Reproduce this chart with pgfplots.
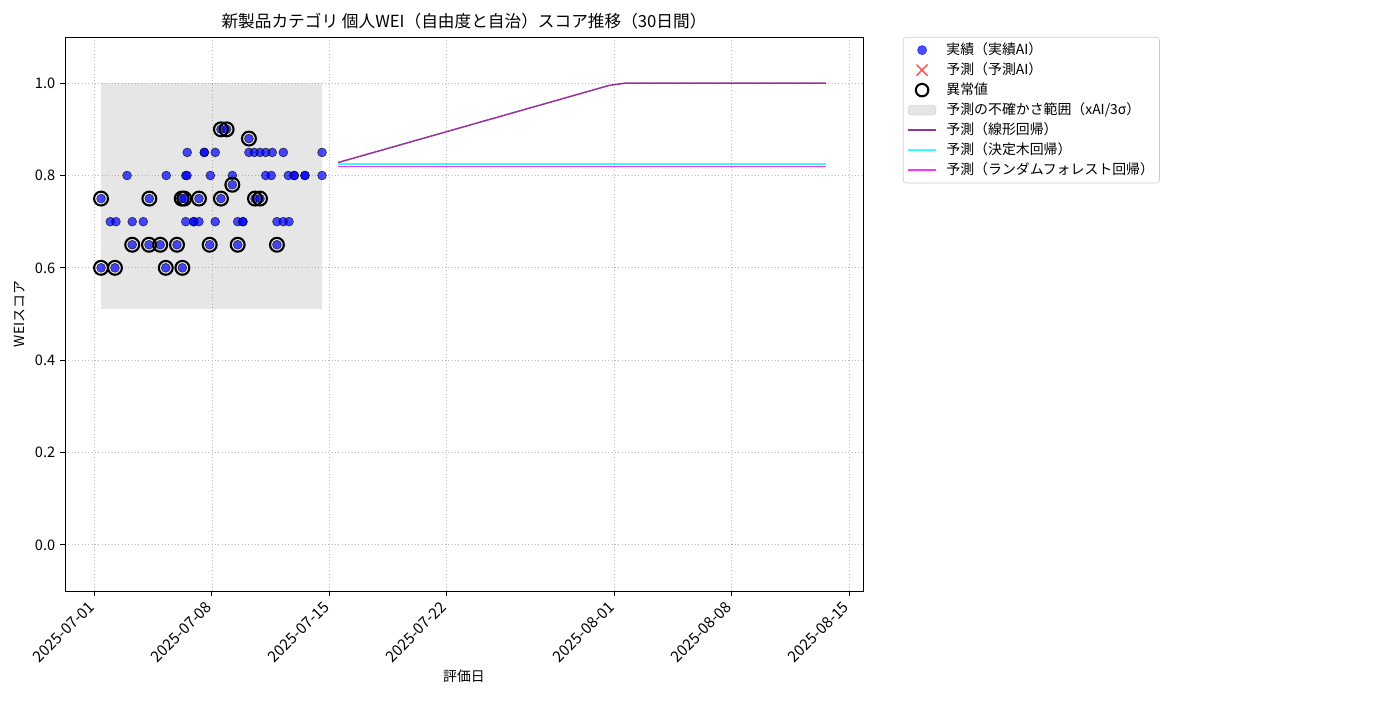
\documentclass[border=0pt]{standalone}
\usepackage{fontspec}
\setmainfont{Noto Sans CJK JP}
\usepackage{pgfplots}
\pgfplotsset{compat=1.18}

\definecolor{linpurple}{RGB}{128,0,128}
\definecolor{treecyan}{RGB}{0,255,255}
\definecolor{forestmag}{RGB}{255,0,255}
\definecolor{actblue}{RGB}{0,0,255}

\begin{document}
\begin{tikzpicture}
\path[use as bounding box] (0,0) rectangle (1008pt,504pt);
\begin{axis}[
    at={(46.8pt,78.48pt)}, anchor=south west,
    scale only axis,
    width=574.56pt, height=398.88pt,
    xmin=-1.759, xmax=45.83,
    ymin=-0.1, ymax=1.1,
    xtick={0,7,14,21,31,38,45},
    xticklabels={2025-07-01,2025-07-08,2025-07-15,2025-07-22,2025-08-01,2025-08-08,2025-08-15},
    xticklabel style={xshift=-5pt, yshift=-1.5pt, rotate=45, anchor=north east, inner sep=1pt, font=\fontsize{11}{13}\selectfont},
    ytick={0,0.2,0.4,0.6,0.8,1.0},
    yticklabel style={/pgf/number format/fixed, /pgf/number format/fixed zerofill, /pgf/number format/precision=1, font=\fontsize{10.5}{12}\selectfont},
    /pgf/number format/assume math mode=true,
    tick align=outside, tick pos=left,
    major tick length=3.5pt,
    every tick/.style={black, line width=0.6pt},
    axis line style={line width=0.6pt},
    grid=major,
    major grid style={dotted, color=gray!55, line width=0.5pt},
    title={新製品カテゴリ 個人WEI（自由度と自治）スコア推移（30日間）},
    title style={font=\fontsize{12}{14}\selectfont, at={(axis description cs:0.5,1)}, anchor=south, yshift=-3.5pt},
    xlabel={評価日},
    xlabel style={font=\fontsize{10}{12}\selectfont, at={(axis description cs:0.5,-0.1534)}, anchor=center},
    ylabel={WEIスコア},
    ylabel style={font=\fontsize{10}{12}\selectfont, at={(axis description cs:-0.0564,0.5)}, anchor=center},
    legend cell align=left,
    legend style={at={(axis description cs:1.0501,1.0)}, anchor=north west,
        font=\fontsize{10}{12}\selectfont,
        draw=black!20, rounded corners=2pt, fill=white,
        inner xsep=3pt, inner ysep=3pt,
        row sep=1.9pt, column sep=6pt,
        nodes={inner sep=1pt, text height=8.5pt, text depth=2pt}},
]
% uncertainty band
\addplot[draw=none, fill=gray, fill opacity=0.2, forget plot]
    coordinates {(0.39,0.51) (13.57,0.51) (13.57,1.0) (0.39,1.0)};

% actual scores
\addplot[only marks, mark=*, mark size=3.2pt, mark options={draw=none, fill=actblue, opacity=0.7}, forget plot]
coordinates {
(7.54,0.9)(7.88,0.9)
(9.21,0.88)
(5.53,0.85)(6.55,0.85)(6.55,0.85)(7.20,0.85)(9.21,0.85)(9.53,0.85)(9.87,0.85)(10.21,0.85)(10.60,0.85)(11.26,0.85)(13.57,0.85)
(1.94,0.8)(4.28,0.8)(5.44,0.8)(5.52,0.8)(6.91,0.8)(8.22,0.8)(10.21,0.8)(10.54,0.8)(11.56,0.8)(11.91,0.8)(11.91,0.8)(12.55,0.8)(12.55,0.8)(13.57,0.8)
(8.22,0.78)
(0.39,0.75)(3.27,0.75)(5.20,0.75)(5.35,0.75)(6.23,0.75)(7.54,0.75)(9.57,0.75)(9.87,0.75)
(0.94,0.7)(1.28,0.7)(2.25,0.7)(2.91,0.7)(5.44,0.7)(5.92,0.7)(5.92,0.7)(6.23,0.7)(7.20,0.7)(8.54,0.7)(8.85,0.7)(8.85,0.7)(10.88,0.7)(11.26,0.7)(11.60,0.7)
(2.25,0.65)(3.25,0.65)(3.92,0.65)(4.92,0.65)(6.87,0.65)(8.54,0.65)(10.88,0.65)
(0.39,0.6)(1.22,0.6)(4.25,0.6)(5.24,0.6)
};

% anomalies
\addplot[only marks, mark=o, mark size=5pt, mark options={draw=black, line width=1.5pt}, forget plot]
coordinates {
(7.54,0.9)(7.88,0.9)
(9.21,0.88)
(8.22,0.78)
(0.39,0.75)(3.27,0.75)(5.20,0.75)(5.35,0.75)(6.23,0.75)(7.54,0.75)(9.57,0.75)(9.87,0.75)
(2.25,0.65)(3.25,0.65)(3.92,0.65)(4.92,0.65)(6.87,0.65)(8.54,0.65)(10.88,0.65)
(0.39,0.6)(1.22,0.6)(4.25,0.6)(5.24,0.6)
};

% forecasts
\addplot[linpurple, opacity=0.8, line width=1.1pt, forget plot]
    coordinates {(14.52,0.828)(30.68,0.995)(31.63,1.0)(43.62,1.0)};
\addplot[treecyan, opacity=0.8, line width=1.1pt, forget plot]
    coordinates {(14.52,0.825)(43.62,0.825)};
\addplot[forestmag, opacity=0.8, line width=1.1pt, forget plot]
    coordinates {(14.52,0.820)(43.62,0.820)};

% legend
\addlegendimage{legend image code/.code={\fill[actblue, opacity=0.7] (10pt,0pt) circle (3.3pt);}}
\addlegendentry{実績（実績AI）}
\addlegendimage{legend image code/.code={\draw[red, opacity=0.7, line width=1pt] (6pt,-4pt) -- (14pt,4pt) (6pt,4pt) -- (14pt,-4pt);}}
\addlegendentry{予測（予測AI）}
\addlegendimage{legend image code/.code={\draw[black, line width=1.5pt] (10pt,0pt) circle (4.5pt);}}
\addlegendentry{異常値}
\addlegendimage{legend image code/.code={\fill[gray, opacity=0.2] (0pt,-3.5pt) rectangle (20pt,3.5pt);}}
\addlegendentry{予測の不確かさ範囲（xAI/3σ）}
\addlegendimage{legend image code/.code={\draw[linpurple, opacity=0.8, line width=1.1pt] (0pt,0pt) -- (20pt,0pt);}}
\addlegendentry{予測（線形回帰）}
\addlegendimage{legend image code/.code={\draw[treecyan, opacity=0.8, line width=1.1pt] (0pt,0pt) -- (20pt,0pt);}}
\addlegendentry{予測（決定木回帰）}
\addlegendimage{legend image code/.code={\draw[forestmag, opacity=0.8, line width=1.1pt] (0pt,0pt) -- (20pt,0pt);}}
\addlegendentry{予測（ランダムフォレスト回帰）}
\end{axis}
\end{tikzpicture}
\end{document}
